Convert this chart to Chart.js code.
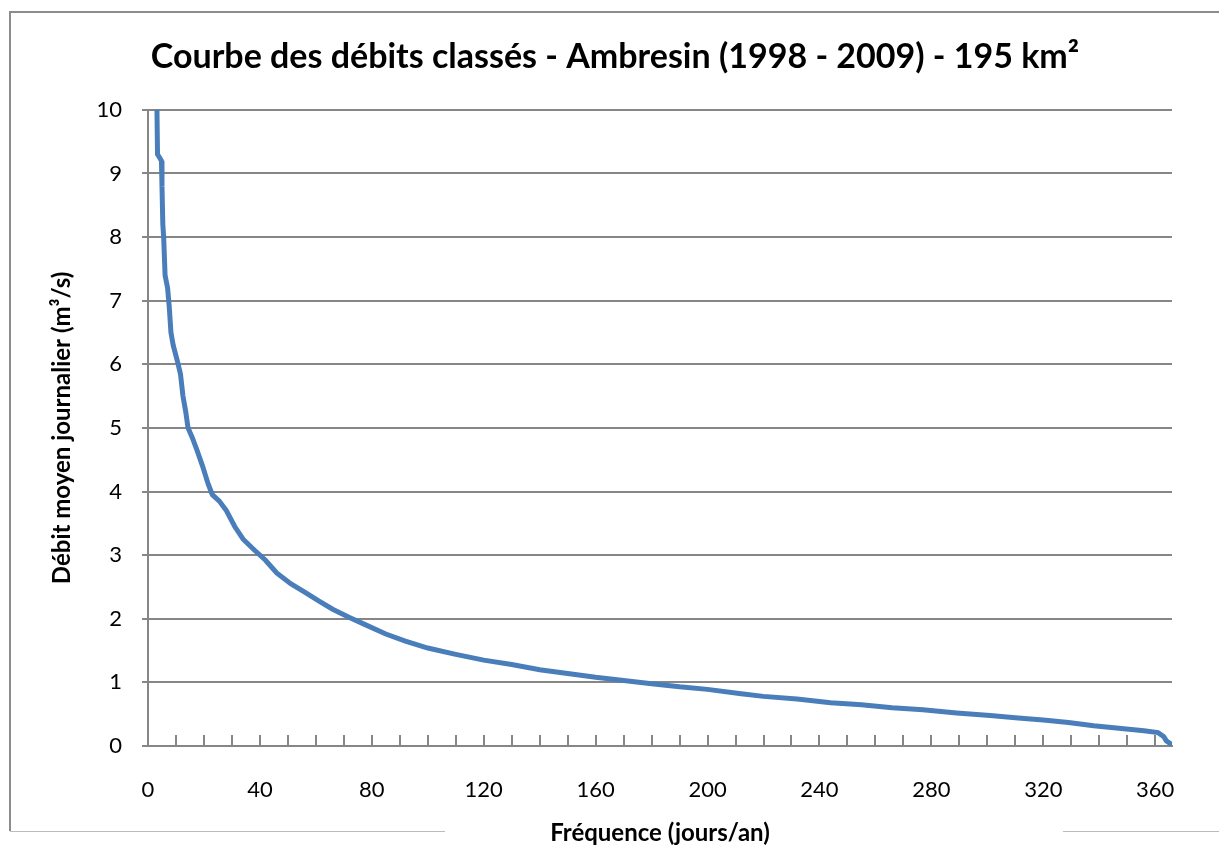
<!DOCTYPE html>
<html>
<head>
<meta charset="utf-8">
<title>Courbe des débits classés - Ambresin</title>
<script src="https://cdn.jsdelivr.net/npm/chart.js@4/dist/chart.umd.min.js"></script>
<style>
	html, body { margin: 0; padding: 0; background: #fff; }
	#wrap { width: 1219px; height: 845px; }
</style>
</head>
<body>
<div id="wrap"><canvas id="chart" width="1219" height="845"></canvas></div>
<script>

	// fréquence (jours/an) et débit moyen journalier (m³/s)
	var jours = [3.2, 3.4, 4.8, 5.0, 5.3, 5.6, 6.1, 7.0, 7.6, 8.2, 9.0, 10.5, 11.6, 12.5, 13.5, 14.3, 15.8, 17.5, 19.5, 21.5,
		23, 25.5, 28, 31, 34, 38, 42, 46, 51, 56, 61, 66, 72, 78, 85, 92, 100, 110, 120, 130,
		140, 150, 160, 170, 180, 190, 200, 212, 220, 232, 244, 255, 266, 277, 289, 301, 311, 320, 329, 338,
		347, 356, 361, 363, 364, 366];
	var debits = [10.0, 9.3, 9.2, 8.8, 8.2, 8.0, 7.4, 7.2, 6.9, 6.5, 6.3, 6.05, 5.85, 5.5, 5.25, 5.0, 4.85, 4.65, 4.4, 4.12,
		3.95, 3.85, 3.7, 3.45, 3.25, 3.08, 2.92, 2.72, 2.55, 2.42, 2.28, 2.15, 2.02, 1.9, 1.76, 1.65, 1.54, 1.44, 1.35, 1.28,
		1.2, 1.14, 1.08, 1.03, 0.98, 0.93, 0.89, 0.82, 0.78, 0.74, 0.68, 0.65, 0.6, 0.57, 0.52, 0.48, 0.44, 0.41, 0.37, 0.32,
		0.28, 0.24, 0.21, 0.15, 0.08, 0.02];

	var xMax = 366;
	var xLastTick = 360;
	var xLabelStep = 40;
	var xMinorStep = 10;
	var yMax = 10;

	var uiFont = 'Lato';
	var gris = '#868686';

	var points = [];
	for (var i = 0; i < jours.length; i++) {
		points.push({ x: jours[i], y: debits[i] });
	}

	// cadre du graphique (style Excel)
	var cadre = {
		id: 'cadre',
		beforeDraw: function(chart) {
			var ctx = chart.ctx;
			ctx.save();
			ctx.fillStyle = '#fff';
			ctx.fillRect(0, 0, chart.width, chart.height);
			ctx.strokeStyle = '#8c8c8c';
			ctx.lineWidth = 2;
			ctx.beginPath();
			ctx.moveTo(chart.width, 12);
			ctx.lineTo(10, 12);
			ctx.lineTo(10, 831);
			ctx.stroke();
			ctx.strokeStyle = '#bcbcbc';
			ctx.lineWidth = 1;
			ctx.beginPath();
			ctx.moveTo(10, 831.5);
			ctx.lineTo(445, 831.5);
			ctx.moveTo(1063, 831.5);
			ctx.lineTo(chart.width, 831.5);
			ctx.stroke();
			ctx.restore();
		},
		// petites graduations vers l'intérieur sur l'axe des x
		beforeDatasetsDraw: function(chart) {
			var ctx = chart.ctx;
			var xs = chart.scales.x;
			var bas = chart.chartArea.bottom;
			ctx.save();
			ctx.strokeStyle = gris;
			ctx.lineWidth = 2;
			ctx.beginPath();
			xs.ticks.forEach(function(t) {
				if (t.value <= 0) return;
				var px = Math.round(xs.getPixelForValue(t.value));
				ctx.moveTo(px, bas - 11);
				ctx.lineTo(px, bas);
			});
			ctx.stroke();
			ctx.restore();
		}
	};

	var ctx = document.getElementById('chart').getContext('2d');
	var myChart = new Chart(ctx, {
		type: 'line',
		data: {
			datasets: [{
				data: points,
				borderColor: '#4a7ebb',
				borderWidth: 5,
				pointRadius: 0,
				tension: 0,
				fill: false
			}]
		},
		options: {
			responsive: false,
			animation: false,
			layout: { padding: { left: 58, right: 47, top: 0, bottom: 0 } },
			plugins: {
				legend: { display: false },
				tooltip: { enabled: false },
				title: {
					display: true,
					text: 'Courbe des débits classés - Ambresin (1998 - 2009) - 195 km²',
					color: '#000',
					font: { family: uiFont, size: 34, weight: 'bold', lineHeight: 1.2 },
					padding: { top: 37, bottom: 32 }
				}
			},
			scales: {
				x: {
					type: 'linear',
					min: 0,
					max: xMax,
					grid: { display: false, drawTicks: false },
					border: { display: true, color: gris, width: 2 },
					afterBuildTicks: function(s) {
						var t = [];
						for (var v = 0; v <= xLastTick; v += xMinorStep) t.push({ value: v });
						s.ticks = t;
					},
					ticks: {
						autoSkip: false,
						maxRotation: 0,
						padding: 31,
						color: '#000',
						font: { family: uiFont, size: 22 },
						callback: function(v) { return (v % xLabelStep === 0) ? v : ''; }
					},
					title: {
						display: true,
						text: 'Fréquence (jours/an)',
						color: '#000',
						font: { family: uiFont, size: 24, weight: 'bold', lineHeight: 1 },
						padding: { top: 0, bottom: 0 }
					},
					afterFit: function(s) { s.height = 99; }
				},
				y: {
					min: 0,
					max: yMax,
					grid: { color: gris, lineWidth: 2, tickLength: 6 },
					border: { display: true, color: gris, width: 2 },
					ticks: {
						stepSize: 1,
						padding: 20,
						color: '#000',
						font: { family: uiFont, size: 22 }
					},
					title: {
						display: true,
						text: 'Débit moyen journalier (m³/s)',
						color: '#000',
						font: { family: uiFont, size: 24, weight: 'bold', lineHeight: 1 },
						padding: { top: -8, bottom: 0 }
					},
					afterFit: function(s) { s.width = 90; }
				}
			}
		},
		plugins: [cadre]
	});

</script>
</body>
</html>
